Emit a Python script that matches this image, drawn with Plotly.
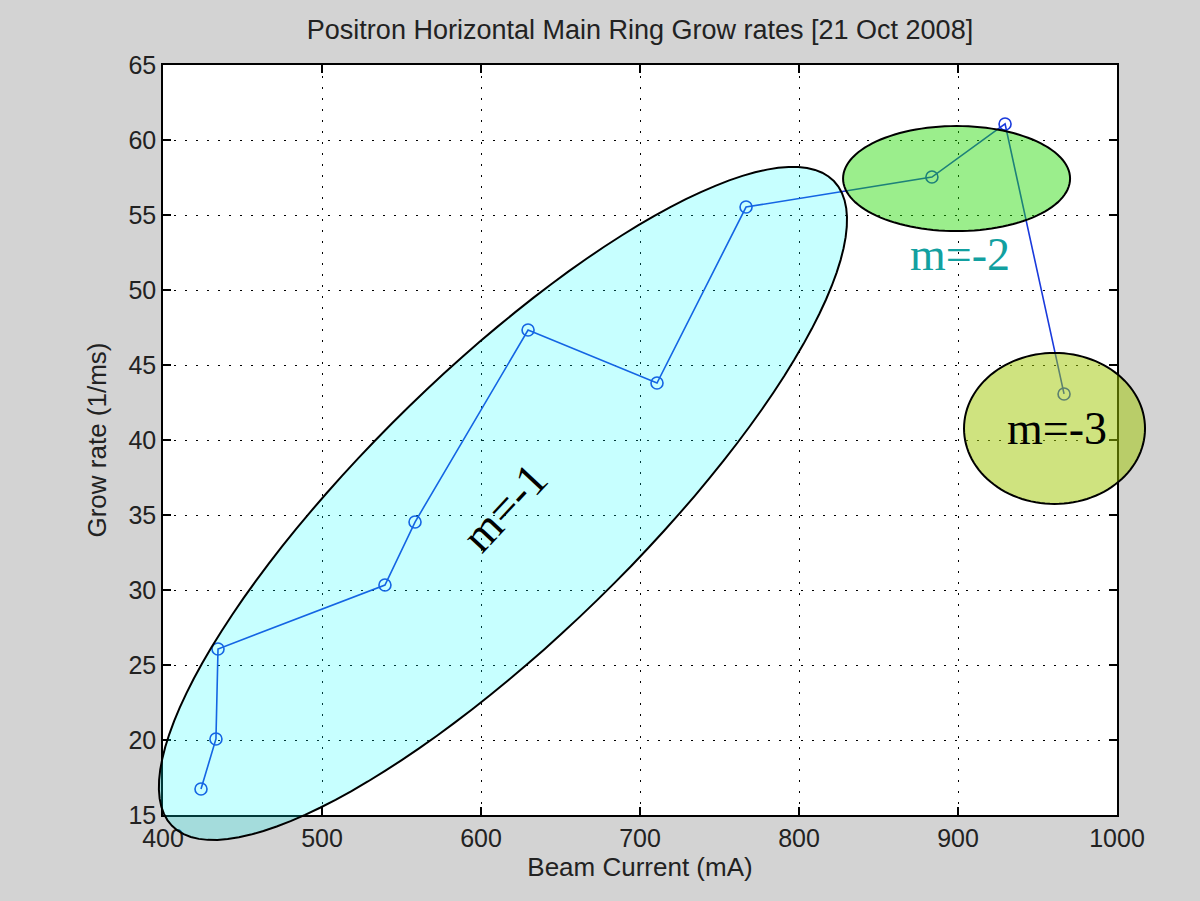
import numpy as np
import plotly.graph_objects as go

# Measured grow rates vs. beam current
beam_current = [423.9, 433.3, 434.6, 539.6, 558.5, 629.6, 710.7, 766.7, 883.6, 929.6, 966.7]
grow_rate = [16.73, 20.07, 26.07, 30.33, 34.53, 47.33, 43.8, 55.53, 57.53, 61.07, 43.07]

x_ticks = [400, 500, 600, 700, 800, 900, 1000]
y_ticks = [15, 20, 25, 30, 35, 40, 45, 50, 55, 60, 65]

X_RANGE = (400, 1000)
Y_RANGE = (15, 65)

# Figure geometry (pixels)
W, H = 1200, 901
ML, MR, MT, MB = 163, 83, 65, 86
PW, PH = W - ML - MR, H - MT - MB


def to_paper(x, y):
    return ((x - X_RANGE[0]) / (X_RANGE[1] - X_RANGE[0]),
            (y - Y_RANGE[0]) / (Y_RANGE[1] - Y_RANGE[0]))


def ellipse_path(cx, cy, a_px, b_px, angle_deg, n=120):
    """Ellipse centred at data point (cx, cy), semi-axes in pixels,
    rotated counter-clockwise by angle_deg, returned as a paper-ref path."""
    px0, py0 = to_paper(cx, cy)
    t = np.linspace(0, 2 * np.pi, n, endpoint=False)
    th = np.radians(angle_deg)
    dx = a_px * np.cos(t) * np.cos(th) - b_px * np.sin(t) * np.sin(th)
    dy = a_px * np.cos(t) * np.sin(th) + b_px * np.sin(t) * np.cos(th)
    xs = px0 + dx / PW
    ys = py0 + dy / PH
    pts = [f"{x:.5f},{y:.5f}" for x, y in zip(xs, ys)]
    return "M" + " L".join(pts) + " Z"


fig = go.Figure()
fig.add_trace(go.Scatter(
    x=beam_current, y=grow_rate, mode="lines+markers",
    line=dict(color="#1a3adc", width=1.6),
    marker=dict(symbol="circle-open", size=12, color="#1a3adc", line=dict(width=1.6)),
    showlegend=False,
))

shapes = [
    dict(type="path", xref="paper", yref="paper",
         path=ellipse_path(613.8, 35.77, 462, 135, 44.25),
         fillcolor="rgba(0,255,255,0.22)", line=dict(color="black", width=2)),
    dict(type="path", xref="paper", yref="paper",
         path=ellipse_path(899.1, 57.43, 113.5, 52.5, 0),
         fillcolor="rgba(33,217,0,0.45)", line=dict(color="black", width=2)),
    dict(type="path", xref="paper", yref="paper",
         path=ellipse_path(960.7, 40.77, 90.5, 75.5, 0),
         fillcolor="rgba(160,200,0,0.5)", line=dict(color="black", width=2)),
]

serif = "Liberation Serif, Times New Roman, serif"
annotations = [
    dict(x=615, y=35.47, xref="x", yref="y", text="m=-1", showarrow=False,
         textangle=-47, font=dict(family=serif, size=46, color="black")),
    dict(x=901.3, y=52.4, xref="x", yref="y", text="m=-2", showarrow=False,
         font=dict(family=serif, size=46, color="#12a0a0")),
    dict(x=962, y=40.8, xref="x", yref="y", text="m=-3", showarrow=False,
         font=dict(family=serif, size=46, color="black")),
]

sans = "Liberation Sans, Arial"
axis_common = dict(
    showline=True, linecolor="black", linewidth=1.5, mirror="ticks",
    ticks="inside", ticklen=8, tickwidth=1.5, tickcolor="black",
    showgrid=True, gridcolor="black", gridwidth=1, griddash="2px,9px",
    zeroline=False, tickfont=dict(family=sans, size=25, color="#222"),
)

fig.update_layout(
    width=W, height=H,
    margin=dict(l=ML, r=MR, t=MT, b=MB),
    paper_bgcolor="#d3d3d3", plot_bgcolor="white",
    title=dict(text="Positron Horizontal Main Ring Grow rates [21 Oct 2008]",
               x=(ML + PW / 2) / W, xanchor="center", y=1 - 30 / H, yanchor="middle",
               font=dict(family=sans, size=27, color="#222")),
    xaxis=dict(range=list(X_RANGE), tickvals=x_ticks, ticktext=[str(v) for v in x_ticks],
               title=dict(text="Beam Current (mA)", standoff=4,
                          font=dict(family=sans, size=26, color="#222")),
               **axis_common),
    yaxis=dict(range=list(Y_RANGE), tickvals=y_ticks, ticktext=[str(v) for v in y_ticks],
               title=dict(text="Grow rate (1/ms)", standoff=14,
                          font=dict(family=sans, size=26, color="#222")),
               **axis_common),
    shapes=shapes,
    annotations=annotations,
)

fig.write_html("out.html")
